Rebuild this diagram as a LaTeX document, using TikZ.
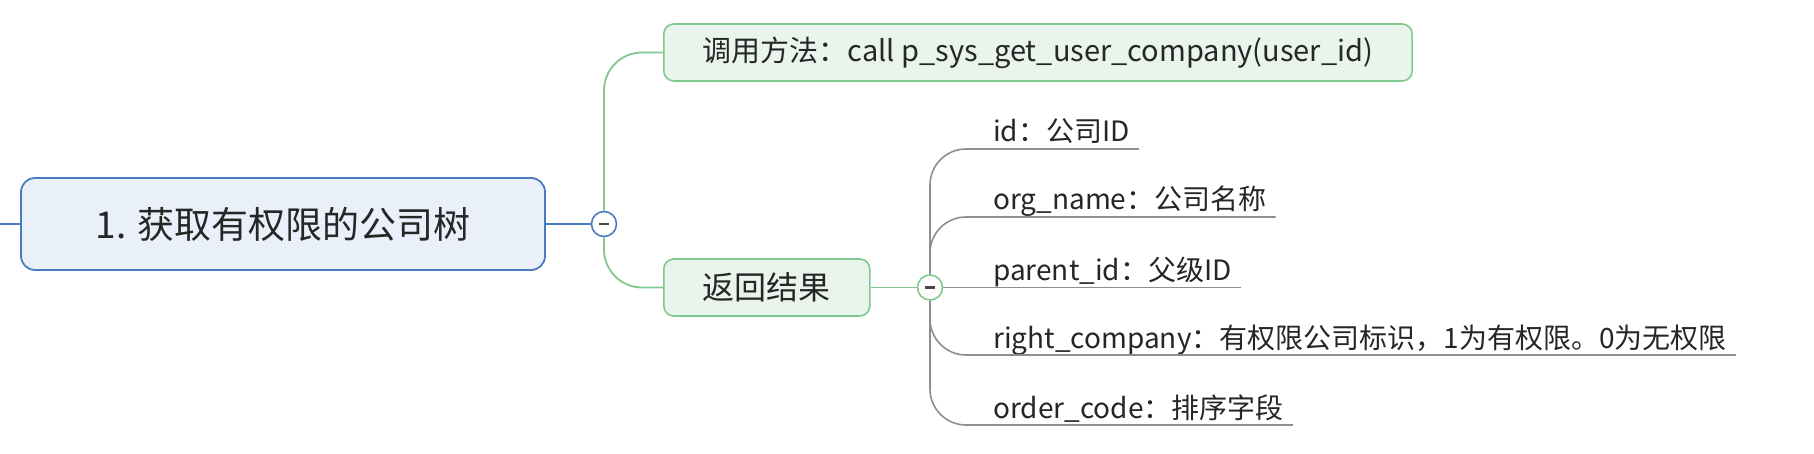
\documentclass[tikz,border=0pt]{standalone}
\usepackage{fontspec}
\setmainfont{Noto Sans CJK SC}
\definecolor{rootfill}{HTML}{EAF0F9}
\definecolor{rootdraw}{HTML}{4A7BBF}
\definecolor{gfill}{HTML}{E9F5EC}
\definecolor{gdraw}{HTML}{80C890}
\definecolor{grayline}{HTML}{8E8E8E}
\definecolor{txt}{HTML}{262626}
\begin{document}
\begin{tikzpicture}[x=1pt,y=-1pt,
  rootbox/.style={draw=rootdraw, fill=rootfill, line width=1.8pt, rounded corners=14pt,
    minimum width=524pt, minimum height=92pt, inner sep=0pt, text=txt,
    font=\fontsize{37}{44}\selectfont},
  gbox/.style={draw=gdraw, fill=gfill, line width=1.6pt, rounded corners=10pt,
    minimum height=57pt, inner xsep=39pt, inner ysep=0pt, anchor=west, text=txt,
    font=\fontsize{29}{35}\selectfont},
  collapse/.style={circle, fill=white, line width=1.6pt, minimum size=25pt, inner sep=0pt},
  minusbar/.style={line width=2.8pt, draw=txt!85},
  bconn/.style={draw=rootdraw, line width=1.8pt},
  gconn/.style={draw=gdraw, line width=1.8pt, rounded corners=38pt},
  sconn/.style={draw=grayline, line width=1.6pt, rounded corners=36pt},
  sub/.style={anchor=base west, inner sep=0pt, text=txt, font=\fontsize{28}{33}\selectfont}
]
\useasboundingbox (0,0) rectangle (1814,454);

% root
\node[rootbox] (root) at (283,224) {1. 获取有权限的公司树};
\coordinate (lft) at (0,224);
\draw[bconn] (lft) -- (root.west);

\node[collapse, draw=rootdraw] (c1) at (604,224) {};
\draw[bconn] (root.east) -- (c1.west);
\draw[minusbar] ([xshift=-5pt]c1.center) -- ([xshift=5pt]c1.center);

% level 1
\node[gbox] (n1) at (663,52.5) {调用方法：call p\_sys\_get\_user\_company(user\_id)};
\node[gbox, font=\fontsize{32}{38}\selectfont] (n2) at (663,287.5) {返回结果};
\draw[gconn] (c1.north) |- (n1.west);
\draw[gconn] (c1.south) |- (n2.west);

\node[collapse, draw=gdraw] (c2) at (930,287.5) {};
\draw[gconn] (n2.east) -- (c2.west);
\draw[minusbar] ([xshift=-5pt]c2.center) -- ([xshift=5pt]c2.center);

% level 2
\node[sub] (t1) at (993,142) {id：公司ID};
\node[sub] (t2) at (993,210) {org\_name：公司名称};
\node[sub] (t3) at (993,280.5) {parent\_id：父级ID};
\node[sub] (t4) at (993,348) {right\_company：有权限公司标识，1为有权限。0为无权限};
\node[sub] (t5) at (993,418) {order\_code：排序字段};

\coordinate (u1) at ([xshift=9pt,yshift=-7pt]t1.base east);
\coordinate (u2) at ([xshift=9pt,yshift=-7pt]t2.base east);
\coordinate (u3) at ([xshift=9pt,yshift=-7pt]t3.base east);
\coordinate (u4) at ([xshift=9pt,yshift=-7pt]t4.base east);
\coordinate (u5) at ([xshift=9pt,yshift=-7pt]t5.base east);

\draw[sconn] (c2.north) |- (u1);
\draw[sconn] (c2.north) |- (u2);
\draw[sconn] (c2.east) -- (u3);
\draw[sconn] (c2.south) |- (u4);
\draw[sconn] (c2.south) |- (u5);
\end{tikzpicture}
\end{document}
